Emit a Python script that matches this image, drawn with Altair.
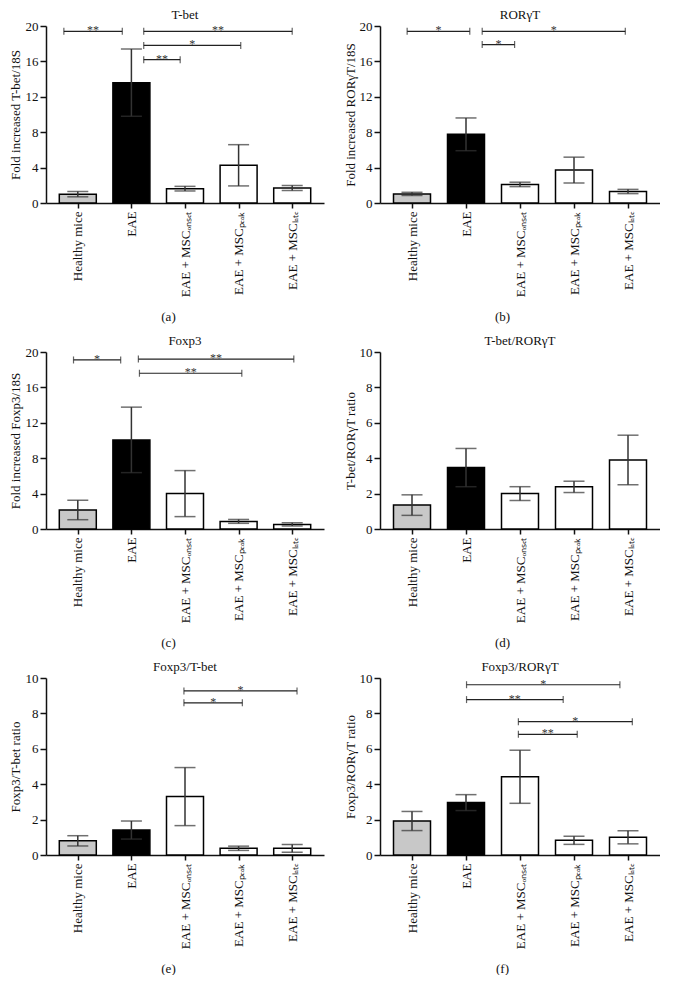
import json
import altair as alt
import pandas as pd

FONT = "Liberation Serif"
INK = "#111111"

groups = ["Healthy mice", "EAE", "EAE + MSC\u2092\u2099\u209b\u2091\u209c",
          "EAE + MSC\u209a\u2091\u2090\u2096", "EAE + MSC\u2097\u2090\u209c\u2091"]
positions = [0, 1, 2, 3, 4]
fills = ["#c8c8c8", "#000000", "#ffffff", "#ffffff", "#ffffff"]

# (a) T-bet
tbet_mean = [1.0, 13.6, 1.62, 4.26, 1.69]
tbet_sem = [0.3, 3.8, 0.26, 2.33, 0.28]
tbet_brackets = [(-0.26, 0.83, 19.4, "**"), (1.23, 4.0, 19.4, "**"),
                 (1.23, 3.04, 17.8, "*"), (1.23, 1.91, 16.2, "**")]
# (b) RORγT
ror_mean = [1.03, 7.76, 2.1, 3.72, 1.3]
ror_sem = [0.18, 1.85, 0.25, 1.46, 0.24]
ror_brackets = [(-0.09, 1.07, 19.4, "*"), (1.3, 3.95, 19.4, "*"), (1.3, 1.9, 17.9, "*")]
# (c) Foxp3
foxp3_mean = [2.15, 10.07, 4.0, 0.86, 0.52]
foxp3_sem = [1.1, 3.7, 2.6, 0.22, 0.18]
foxp3_brackets = [(-0.08, 0.8, 19.1, "*"), (1.13, 4.03, 19.2, "**"), (1.15, 3.06, 17.6, "**")]
# (d) T-bet/RORγT
tr_mean = [1.35, 3.47, 2.0, 2.38, 3.9]
tr_sem = [0.58, 1.08, 0.39, 0.32, 1.4]
tr_brackets = []
# (e) Foxp3/T-bet
ft_mean = [0.8, 1.41, 3.3, 0.38, 0.38]
ft_sem = [0.29, 0.51, 1.64, 0.12, 0.22]
ft_brackets = [(1.98, 4.09, 9.27, "*"), (1.98, 3.07, 8.6, "*")]
# (f) Foxp3/RORγT
fr_mean = [1.92, 2.96, 4.42, 0.83, 1.0]
fr_sem = [0.54, 0.45, 1.5, 0.23, 0.37]
fr_brackets = [(1.01, 3.85, 9.62, "*"), (1.01, 2.8, 8.78, "**"),
               (1.97, 4.08, 7.53, "*"), (1.97, 3.06, 6.82, "**")]


def panel(title, ytitle, caption, means, sems, ymax, ystep, brackets, width, ytitle_x):
    df = pd.DataFrame({"grp": groups, "pos": positions, "mean": means, "sem": sems})
    df["lo"] = df["mean"] - df["sem"]
    df["hi"] = df["mean"] + df["sem"]
    xscale = alt.Scale(domain=[-0.5, 4.5], nice=False, zero=False)
    yscale = alt.Scale(domain=[0, ymax], nice=False)
    label_expr = json.dumps(groups, ensure_ascii=False) + "[datum.value]"
    xaxis = alt.Axis(values=positions, tickCount=10, labelExpr=label_expr, labelAngle=270,
                     labelAlign="right", labelBaseline="middle", labelFlush=False,
                     labelOverlap=False, labelPadding=3, tickSize=5, grid=False,
                     title=caption, titleX=122, titleY=113, titleAlign="center",
                     titleBaseline="middle", titleAngle=0)
    yvals = list(range(0, ymax + 1, ystep))
    yaxis = alt.Axis(values=yvals, tickCount=20, format="d", grid=False, tickSize=6,
                     labelPadding=2, labelOverlap=False, labelFlush=False,
                     title=ytitle, titleX=ytitle_x, titleBaseline="middle")
    base = alt.Chart(df)
    bars = base.mark_bar(orient="vertical", size=37, stroke="black", strokeWidth=1.5).encode(
        x=alt.X("pos:Q", scale=xscale, axis=xaxis),
        y=alt.Y("mean:Q", scale=yscale, axis=yaxis),
        y2=alt.datum(0),
        fill=alt.Fill("grp:N", scale=alt.Scale(domain=groups, range=fills), legend=None),
    )
    err = base.mark_rule(color="#333333", strokeWidth=1.5).encode(
        x="pos:Q", y="lo:Q", y2="hi:Q")
    cap_hi = base.mark_tick(orient="horizontal", size=21, thickness=1.5, color="#333333").encode(
        x="pos:Q", y="hi:Q")
    cap_lo = base.mark_tick(orient="horizontal", size=21, thickness=1.5, color="#333333").encode(
        x="pos:Q", y="lo:Q")
    layers = [bars, err, cap_hi, cap_lo]
    if brackets:
        bdf = pd.DataFrame(brackets, columns=["x1", "x2", "y", "label"])
        bdf["xm"] = (bdf["x1"] + bdf["x2"]) / 2
        bb = alt.Chart(bdf)
        layers += [
            bb.mark_rule(color="#222222", strokeWidth=1.2).encode(x="x1:Q", x2="x2:Q", y="y:Q"),
            bb.mark_tick(orient="vertical", size=7, thickness=1.2, color="#222222").encode(
                x="x1:Q", y="y:Q"),
            bb.mark_tick(orient="vertical", size=7, thickness=1.2, color="#222222").encode(
                x="x2:Q", y="y:Q"),
            bb.mark_text(baseline="alphabetic", dy=3, fontSize=12, font=FONT,
                         color="#333333").encode(x="xm:Q", y="y:Q", text="label:N"),
        ]
    return alt.layer(*layers).properties(
        width=width, height=177,
        title=alt.TitleParams(title, anchor="middle"),
    )


LW, RW = 278, 280
pa = panel("T-bet", "Fold increased T-bet/18S", "(a)", tbet_mean, tbet_sem, 20, 4, tbet_brackets, LW, -31)
pb = panel("ROR\u03b3T", "Fold increased ROR\u03b3T/18S", "(b)", ror_mean, ror_sem, 20, 4, ror_brackets, RW, -30)
pc = panel("Foxp3", "Fold increased Foxp3/18S", "(c)", foxp3_mean, foxp3_sem, 20, 4, foxp3_brackets, LW, -31)
pd_ = panel("T-bet/ROR\u03b3T", "T-bet/ROR\u03b3T ratio", "(d)", tr_mean, tr_sem, 10, 2, tr_brackets, RW, -30)
pe = panel("Foxp3/T-bet", "Foxp3/T-bet ratio", "(e)", ft_mean, ft_sem, 10, 2, ft_brackets, LW, -31)
pf = panel("Foxp3/ROR\u03b3T", "Foxp3/ROR\u03b3T ratio", "(f)", fr_mean, fr_sem, 10, 2, fr_brackets, RW, -30)

chart = alt.vconcat(
    alt.hconcat(pa, pb, spacing=20),
    alt.hconcat(pc, pd_, spacing=20),
    alt.hconcat(pe, pf, spacing=20),
    spacing=12,
).properties(
    padding={"left": 1, "top": 1, "right": 0, "bottom": 0},
    background="white",
).configure_view(stroke=None).configure_axis(
    labelFont=FONT, titleFont=FONT, labelFontSize=13, titleFontSize=13,
    labelColor=INK, titleColor=INK, domainColor=INK, tickColor=INK,
    domainWidth=1.5, tickWidth=1.5, titleFontWeight="normal",
).configure_title(
    font=FONT, fontSize=13, fontWeight="normal", color=INK, offset=-2,
)

chart.save("out.html", embed_options={"renderer": "svg", "actions": False})
